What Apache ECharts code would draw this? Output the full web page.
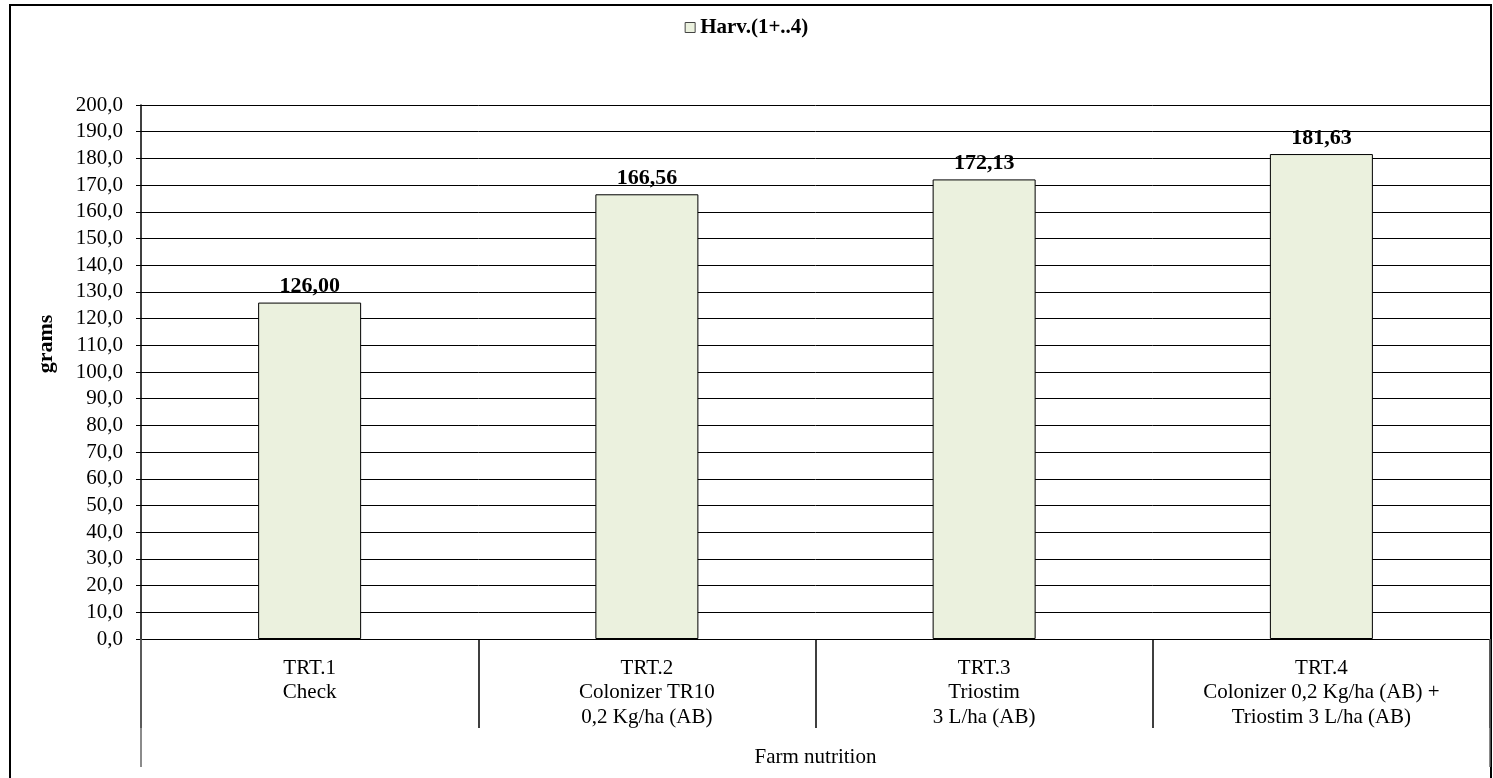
<!DOCTYPE html>
<html>
<head>
<meta charset="utf-8">
<script src="https://cdn.jsdelivr.net/npm/echarts@6/dist/echarts.min.js"></script>
<style>
  html, body { margin: 0; padding: 0; background: #fff; }
  #chart { width: 1493px; height: 778px; }
</style>
</head>
<body>
<div id="chart"></div>
<script>
var categories = [
  'TRT.1\nCheck',
  'TRT.2\nColonizer TR10\n0,2 Kg/ha (AB)',
  'TRT.3\nTriostim\n3 L/ha (AB)',
  'TRT.4\nColonizer 0,2 Kg/ha (AB) +\nTriostim 3 L/ha (AB)'
];
var harvValues = [126.00, 166.56, 172.13, 181.63];
var seriesName = 'Harv.(1+..4)';
var groupLabel = ['Farm nutrition'];

var font = '"Liberation Serif", "Times New Roman", serif';

var myChart = echarts.init(document.getElementById('chart'));
myChart.setOption({
  animation: false,
  textStyle: { fontFamily: font, color: '#000' },
  graphic: [{
    type: 'rect',
    shape: { x: 10, y: 5, width: 1481, height: 800 },
    style: { fill: 'none', stroke: '#000', lineWidth: 2 },
    silent: true
  }],
  legend: {
    top: 12,
    left: 'center',
    data: [seriesName],
    icon: 'rect',
    itemWidth: 10,
    itemHeight: 10,
    itemGap: 5,
    itemStyle: { borderColor: '#444', borderWidth: 1 },
    textStyle: { fontFamily: font, fontWeight: 'bold', fontSize: 21, color: '#000', padding: [0, 0, 0, 0] }
  },
  grid: { left: 141, right: 3, top: 105, bottom: 139, containLabel: false },
  xAxis: [{
    type: 'category',
    data: categories,
    position: 'bottom',
    axisLine: { lineStyle: { color: '#000', width: 1 } },
    axisTick: { show: true, length: 89, lineStyle: { color: '#000', width: 1.5 } },
    axisLabel: {
      interval: 0,
      margin: 17,
      fontFamily: font,
      fontSize: 21,
      lineHeight: 24.5,
      color: '#000',
      align: 'center'
    }
  }, {
    type: 'category',
    data: groupLabel,
    position: 'bottom',
    axisLine: { show: false },
    axisTick: { show: true, length: 128, lineStyle: { color: '#666', width: 1.5 } },
    axisLabel: { margin: 107, fontFamily: font, fontSize: 21, lineHeight: 22, color: '#000' }
  }],
  yAxis: {
    type: 'value',
    min: 0,
    max: 200,
    interval: 10,
    name: 'grams',
    nameLocation: 'middle',
    nameGap: 84,
    nameRotate: 90,
    nameTextStyle: {
      fontFamily: font, fontWeight: 'bold', fontSize: 22, color: '#000',
      padding: [0, 0, 0, 56]
    },
    axisLine: { show: true, lineStyle: { color: '#000', width: 1.5 } },
    axisTick: { show: true, length: 5, lineStyle: { color: '#000' } },
    axisLabel: {
      margin: 18,
      fontFamily: font,
      fontSize: 21,
      color: '#000',
      formatter: function (v) { return v.toFixed(1).replace('.', ','); }
    },
    splitLine: { show: true, lineStyle: { color: '#000', width: 1 } }
  },
  series: [{
    name: seriesName,
    type: 'bar',
    xAxisIndex: 0,
    data: harvValues,
    barWidth: 103,
    itemStyle: { color: '#EBF1DE', borderColor: '#000', borderWidth: 1 },
    label: {
      show: true,
      position: 'top',
      distance: 5,
      fontFamily: font,
      fontWeight: 'bold',
      fontSize: 22,
      color: '#000',
      formatter: function (p) { return p.value.toFixed(2).replace('.', ','); }
    }
  }]
});
window.addEventListener('resize', function () { myChart.resize(); });
</script>
</body>
</html>
